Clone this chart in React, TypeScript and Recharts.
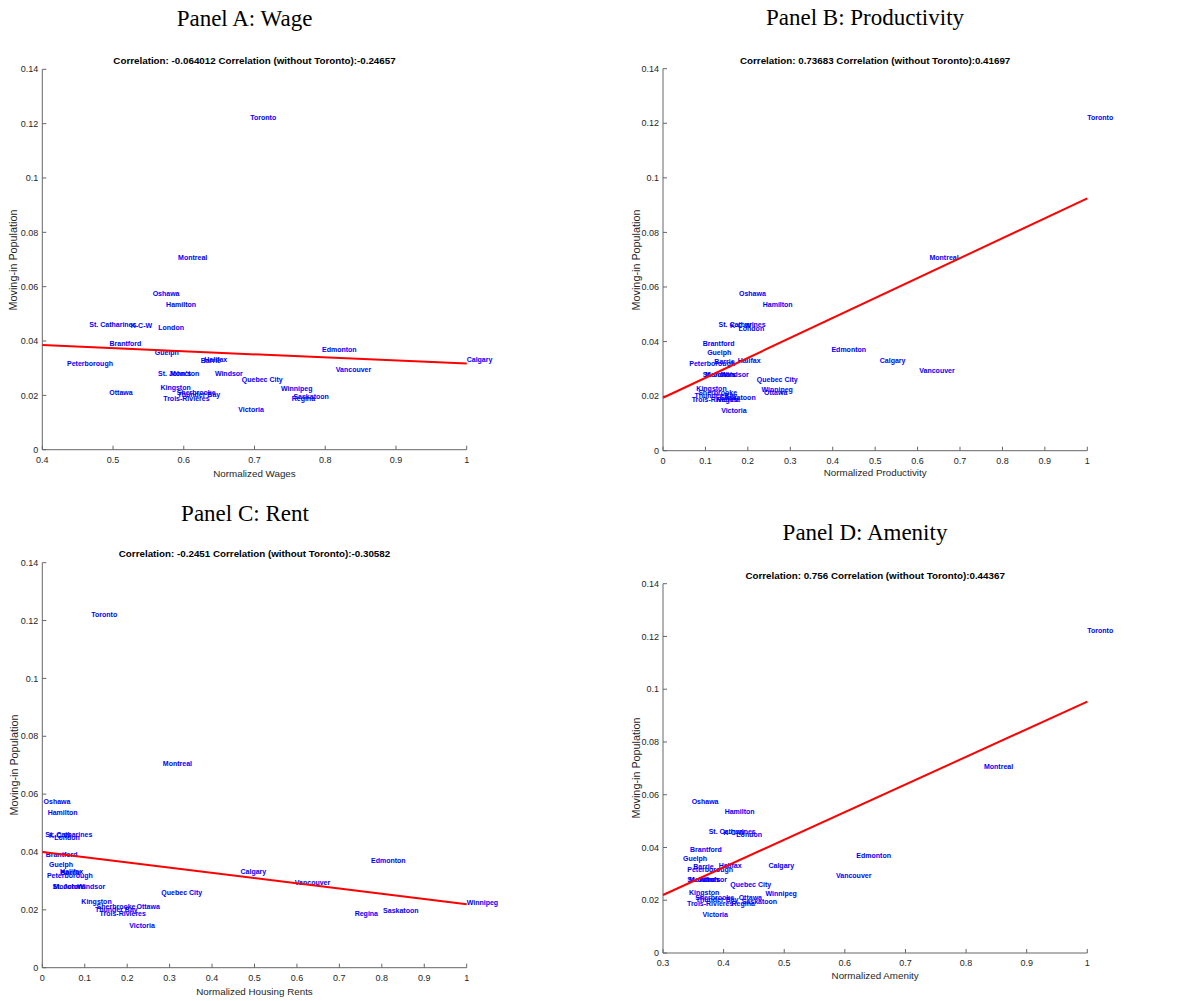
import { ScatterChart, Scatter, XAxis, YAxis } from "recharts";

// Cities and their moving-in population share (same for every panel)
const cities = [
  "Toronto", "Montreal", "Oshawa", "Hamilton", "St. Catharines", "K-C-W", "London",
  "Brantford", "Guelph", "Barrie", "Halifax", "Peterborough", "St. John's", "Moncton",
  "Windsor", "Quebec City", "Kingston", "Sherbrooke", "Thunder Bay", "Trois-Rivieres",
  "Ottawa", "Winnipeg", "Saskatoon", "Regina", "Victoria", "Edmonton", "Calgary", "Vancouver",
];
const moveIn = [
  0.1222, 0.0707, 0.0576, 0.0536, 0.0461, 0.0458, 0.0449, 0.0392, 0.0358, 0.0328, 0.0331,
  0.0318, 0.028, 0.028, 0.028, 0.0259, 0.0228, 0.0212, 0.0202, 0.0188, 0.0212, 0.0225,
  0.0196, 0.0187, 0.0146, 0.0369, 0.0331, 0.0294,
];

// Normalized city characteristics
const wage = [
  0.694, 0.592, 0.556, 0.575, 0.4665, 0.525, 0.564, 0.495, 0.559, 0.624, 0.629, 0.435,
  0.5636, 0.5806, 0.644, 0.682, 0.567, 0.59, 0.591, 0.571, 0.4947, 0.7375, 0.755, 0.7526,
  0.677, 0.7955, 1.0, 0.815,
];
const productivity = [
  1.0, 0.628, 0.179, 0.235, 0.131, 0.158, 0.178, 0.0935, 0.104, 0.121, 0.176, 0.062,
  0.0935, 0.099, 0.136, 0.221, 0.0786, 0.083, 0.074, 0.0676, 0.238, 0.232, 0.135, 0.126,
  0.137, 0.397, 0.511, 0.604,
];
const rent = [
  0.1155, 0.284, 0.003, 0.0126, 0.007, 0.016, 0.028, 0.008, 0.0157, 0.043, 0.042, 0.011,
  0.024, 0.026, 0.0825, 0.2805, 0.092, 0.128, 0.124, 0.135, 0.222, 1.0, 0.803, 0.736,
  0.205, 0.7745, 0.467, 0.595,
];
const amenity = [
  1.0, 0.8295, 0.3473, 0.4017, 0.3753, 0.3995, 0.421, 0.3445, 0.333, 0.35, 0.3918, 0.34,
  0.34, 0.343, 0.3594, 0.411, 0.343, 0.353, 0.354, 0.3396, 0.4248, 0.469, 0.4298, 0.413,
  0.365, 0.619, 0.474, 0.5854,
];

// Fitted regression lines: [x, y] at both ends of the x range
const wageFit = [[0.4, 0.0385], [1, 0.0317]];
const productivityFit = [[0, 0.0194], [1, 0.0925]];
const rentFit = [[0, 0.04], [1, 0.0219]];
const amenityFit = [[0.3, 0.022], [1, 0.0953]];

const yTicks = [0, 0.02, 0.04, 0.06, 0.08, 0.1, 0.12, 0.14];
const xTicksFrom0 = [0, 0.1, 0.2, 0.3, 0.4, 0.5, 0.6, 0.7, 0.8, 0.9, 1];
const xTicksWage = [0.4, 0.5, 0.6, 0.7, 0.8, 0.9, 1];
const xTicksAmenity = [0.3, 0.4, 0.5, 0.6, 0.7, 0.8, 0.9, 1];

const SANS = "'Liberation Sans', Arial, Helvetica, sans-serif";
const SERIF = "'Liberation Serif', 'Times New Roman', serif";
const AXIS = "#666";

const CityLabel = (props: any) => {
  const { cx, cy, payload } = props;
  return (
    <text x={cx} y={cy} dy="0.35em" fontSize={7} fontWeight="bold" fill="#0000ff" fontFamily={SANS}>
      {payload.name}
    </text>
  );
};

const NoDot = () => <g />;

type PanelProps = {
  left: number; top: number; width: number; height: number;
  // plot box inside the panel
  px0: number; px1: number; py0: number; py1: number;
  title: string; titleX: number; titleY: number;
  subtitle: string; subtitleY: number;
  xLabel: string; xLabelY: number; yLabelX: number;
  xs: number[]; xDomain: [number, number]; xTicks: number[];
  fit: number[][];
};

const Panel = (p: PanelProps) => {
  const points = cities.map((name, i) => ({ name, x: p.xs[i], y: moveIn[i] }));
  const line = p.fit.map(([x, y]) => ({ x, y }));
  // axes take 1px each, so the plot box starts right after them
  const margin = { top: p.py0, left: p.px0 - 1, right: p.width - p.px1, bottom: p.height - p.py1 - 1 };
  const plotCx = (p.px0 + p.px1) / 2;
  const plotCy = (p.py0 + p.py1) / 2;
  const txt = (x: number, y: number, extra: any) => ({
    position: "absolute" as const, left: x, top: y, transform: "translate(-50%, -50%)",
    whiteSpace: "nowrap" as const, lineHeight: 1, ...extra,
  });
  return (
    <div style={{ position: "absolute", left: p.left, top: p.top, width: p.width, height: p.height }}>
      <ScatterChart width={p.width} height={p.height} margin={margin}>
        <XAxis
          type="number" dataKey="x" domain={p.xDomain} ticks={p.xTicks} height={1}
          stroke={AXIS} tickSize={-4} tickMargin={11} interval={0}
          tick={{ fontSize: 9, fill: "#262626", fontFamily: SANS }}
        />
        <YAxis
          type="number" dataKey="y" domain={[0, 0.14]} ticks={yTicks} width={1}
          stroke={AXIS} tickSize={-4} tickMargin={8} interval={0}
          tick={{ fontSize: 9, fill: "#262626", fontFamily: SANS }}
        />
        <Scatter data={points} shape={CityLabel} isAnimationActive={false} />
        <Scatter
          data={line} shape={NoDot} line={{ stroke: "#ff0000", strokeWidth: 2 }}
          lineType="joint" isAnimationActive={false}
        />
      </ScatterChart>
      <div style={txt(p.titleX, p.titleY, { fontFamily: SERIF, fontSize: 23, color: "#000" })}>{p.title}</div>
      <div style={txt(plotCx, p.subtitleY, { fontFamily: SANS, fontSize: 9.8, fontWeight: "bold", color: "#000" })}>
        {p.subtitle}
      </div>
      <div style={txt(plotCx, p.xLabelY, { fontFamily: SANS, fontSize: 9.8, color: "#262626" })}>{p.xLabel}</div>
      <div
        style={txt(p.yLabelX, plotCy, {
          fontFamily: SANS, fontSize: 10.8, color: "#262626",
          transform: "translate(-50%, -50%) rotate(-90deg)",
        })}
      >
        Moving-in Population
      </div>
    </div>
  );
};

export default function App() {
  return (
    <div style={{ position: "absolute", left: 0, top: 0, width: 1190, height: 1001, background: "#fff" }}>
      <Panel
        left={0} top={0} width={595} height={495}
        px0={42.3} px1={466.7} py0={69.3} py1={449.7}
        title="Panel A: Wage" titleX={244.5} titleY={18}
        subtitle="Correlation: -0.064012 Correlation (without Toronto):-0.24657" subtitleY={61}
        xLabel="Normalized Wages" xLabelY={473.7} yLabelX={13.3}
        xs={wage} xDomain={[0.4, 1]} xTicks={xTicksWage} fit={wageFit}
      />
      <Panel
        left={595} top={0} width={595} height={495}
        px0={68} px1={492.3} py0={68.7} py1={450.7}
        title="Panel B: Productivity" titleX={270} titleY={17}
        subtitle="Correlation: 0.73683 Correlation (without Toronto):0.41697" subtitleY={61}
        xLabel="Normalized Productivity" xLabelY={473.3} yLabelX={40.7}
        xs={productivity} xDomain={[0, 1]} xTicks={xTicksFrom0} fit={productivityFit}
      />
      <Panel
        left={0} top={495} width={595} height={506}
        px0={42.3} px1={466.7} py0={67.7} py1={472.7}
        title="Panel C: Rent" titleX={245} titleY={18.3}
        subtitle="Correlation: -0.2451 Correlation (without Toronto):-0.30582" subtitleY={59.3}
        xLabel="Normalized Housing Rents" xLabelY={496.7} yLabelX={14}
        xs={rent} xDomain={[0, 1]} xTicks={xTicksFrom0} fit={rentFit}
      />
      <Panel
        left={595} top={495} width={595} height={506}
        px0={68} px1={492.3} py0={88.7} py1={458}
        title="Panel D: Amenity" titleX={270} titleY={37.3}
        subtitle="Correlation: 0.756 Correlation (without Toronto):0.44367" subtitleY={80.7}
        xLabel="Normalized Amenity" xLabelY={480.7} yLabelX={40.7}
        xs={amenity} xDomain={[0.3, 1]} xTicks={xTicksAmenity} fit={amenityFit}
      />
    </div>
  );
}
